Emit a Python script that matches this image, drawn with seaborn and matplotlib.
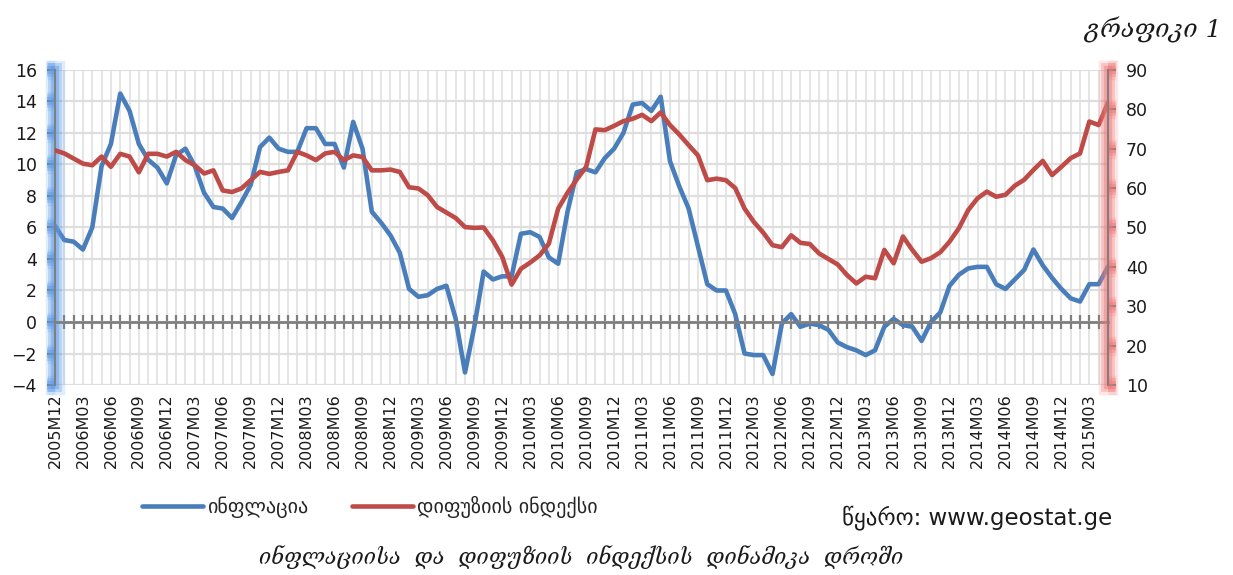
import numpy as np
import pandas as pd
import matplotlib
matplotlib.use("Agg")
import matplotlib.pyplot as plt
import matplotlib.patheffects as pe
import seaborn as sns

# ---------------- data (monthly, 2005M12 .. 2015M05) ----------------
inflation = [6.1, 5.2, 5.1, 4.6, 6.0, 9.9, 11.3, 14.5, 13.4, 11.3,
             10.3, 9.8, 8.8, 10.6, 11.0, 9.9, 8.2, 7.3, 7.2, 6.6,
             7.6, 8.7, 11.1, 11.7, 11.0, 10.8, 10.8, 12.3, 12.3, 11.3,
             11.3, 9.8, 12.7, 11.0, 7.0, 6.3, 5.5, 4.4, 2.1, 1.6,
             1.7, 2.1, 2.3, 0.2, -3.2, -0.3, 3.2, 2.7, 2.9, 2.9,
             5.6, 5.7, 5.4, 4.1, 3.7, 7.0, 9.5, 9.7, 9.5, 10.4,
             11.0, 12.0, 13.8, 13.9, 13.4, 14.3, 10.2, 8.6, 7.2, 4.8,
             2.4, 2.0, 2.0, 0.5, -2.0, -2.1, -2.1, -3.3, -0.1, 0.5,
             -0.3, -0.1, -0.2, -0.5, -1.3, -1.6, -1.8, -2.1, -1.8, -0.3,
             0.2, -0.2, -0.3, -1.2, 0.0, 0.6, 2.3, 3.0, 3.4, 3.5,
             3.5, 2.4, 2.1, 2.7, 3.3, 4.6, 3.6, 2.8, 2.1, 1.5,
             1.3, 2.4, 2.4, 3.5]

diffusion = [69.6, 68.8, 67.5, 66.2, 65.8, 68.0, 65.4, 68.7, 68.0, 64.0,
             68.7, 68.7, 68.0, 69.2, 67.1, 65.8, 63.7, 64.5, 59.4, 59.0,
             59.9, 62.0, 64.1, 63.6, 64.1, 64.5, 69.2, 68.3, 67.1, 68.8,
             69.2, 67.1, 68.3, 67.9, 64.5, 64.5, 64.7, 64.1, 60.2, 59.9,
             58.2, 55.2, 53.8, 52.4, 50.1, 49.9, 50.0, 46.7, 42.5, 35.5,
             39.5, 41.1, 42.9, 45.9, 54.8, 58.8, 62.2, 65.4, 74.9, 74.7,
             75.8, 77.0, 77.6, 78.6, 77.0, 79.2, 76.0, 73.6, 70.9, 68.3,
             62.0, 62.4, 62.0, 60.0, 54.8, 51.4, 48.7, 45.5, 45.0, 48.0,
             46.1, 45.8, 43.4, 42.0, 40.6, 37.9, 35.8, 37.5, 37.1, 44.3,
             40.9, 47.7, 44.3, 41.3, 42.2, 43.7, 46.4, 49.8, 54.4, 57.4,
             59.1, 57.8, 58.3, 60.6, 62.1, 64.6, 66.9, 63.3, 65.4, 67.6,
             68.8, 76.9, 76.0, 81.7]

tick_labels = ["2005M12",
               "2006M03", "2006M06", "2006M09", "2006M12",
               "2007M03", "2007M06", "2007M09", "2007M12",
               "2008M03", "2008M06", "2008M09", "2008M12",
               "2009M03", "2009M06", "2009M09", "2009M12",
               "2010M03", "2010M06", "2010M09", "2010M12",
               "2011M03", "2011M06", "2011M09", "2011M12",
               "2012M03", "2012M06", "2012M09", "2012M12",
               "2013M03", "2013M06", "2013M09", "2013M12",
               "2014M03", "2014M06", "2014M09", "2014M12",
               "2015M03"]

series_names = ["ინფლაცია", "დიფუზიის ინდექსი"]
left_ticks = [-4, -2, 0, 2, 4, 6, 8, 10, 12, 14, 16]
right_ticks = [10, 20, 30, 40, 50, 60, 70, 80, 90]

title_text = "გრაფიკი 1"
source_text = "წყარო: www.geostat.ge"
caption_text = "ინფლაციისა  და  დიფუზიის  ინდექსის  დინამიკა  დროში"

# ---------------- style ----------------
sns.set_style("white")
plt.rcParams["font.family"] = ["DejaVu Sans"]

BLUE = "#4A7EBB"
RED = "#BE4B48"
GRID = "#DEDEDE"
AXIS = "#7F7F7F"
TXT = "#1a1a1a"


def glow(color):
    return [pe.Stroke(linewidth=14, foreground=color, alpha=0.18),
            pe.Stroke(linewidth=10, foreground=color, alpha=0.30),
            pe.Stroke(linewidth=6, foreground=color, alpha=0.45),
            pe.Normal()]


df = pd.DataFrame({"t": np.arange(len(inflation)),
                   "inflation": inflation,
                   "diffusion": diffusion})

fig = plt.figure(figsize=(12.33, 5.75), dpi=100)
ax = fig.add_axes([0.0446, 0.3304, 0.854, 0.548])

sns.lineplot(data=df, x="t", y="inflation", ax=ax, color=BLUE, lw=3.3,
             legend=False)
line_blue = ax.get_lines()[0]
line_blue.set_solid_joinstyle("round")

ax2 = ax.twinx()
sns.lineplot(data=df, x="t", y="diffusion", ax=ax2, color=RED, lw=3.3,
             legend=False)
line_red = ax2.get_lines()[0]
line_red.set_solid_joinstyle("round")

n = len(inflation)
ax.set_xlim(0, n - 1)
ax.set_ylim(-4, 16)
ax2.set_ylim(10, 90)
for a in (ax, ax2):
    a.set_xlabel("")
    a.set_ylabel("")

# x ticks: months (minor) and quarters (major)
ax.set_xticks(np.arange(0, n, 3))
ax.set_xticks(np.arange(n), minor=True)
ax.grid(axis="x", which="both", color=GRID, lw=1.1)
ax.set_yticks(left_ticks)
ax.grid(axis="y", which="major", color=GRID, lw=1.6)
ax.set_axisbelow(True)

# horizontal axis crossing at zero, with monthly tick marks
ax.spines["bottom"].set_position(("data", 0))
ax.spines["bottom"].set_color(AXIS)
ax.spines["bottom"].set_linewidth(2)
ax.tick_params(axis="x", which="both", bottom=True, direction="inout",
               length=10, width=1.6, color=AXIS, labelbottom=False)
ax.spines["top"].set_visible(False)
ax.spines["right"].set_visible(False)

# left axis with blue glow
ax.spines["left"].set_color(AXIS)
ax.spines["left"].set_linewidth(1.5)
ax.spines["left"].set_path_effects(glow("#5B9BE8"))
ax.tick_params(axis="y", which="major", left=True, direction="out",
               length=6, width=1.5, color=AXIS, labelsize=12.5,
               labelcolor=TXT, pad=7)
for tk in ax.yaxis.get_major_ticks():
    tk.tick1line.set_path_effects(glow("#5B9BE8"))

# right axis with red glow
for s in ["left", "top", "bottom"]:
    ax2.spines[s].set_visible(False)
ax2.spines["right"].set_color(AXIS)
ax2.spines["right"].set_linewidth(1.5)
ax2.spines["right"].set_path_effects(glow("#F07878"))
ax2.set_yticks(right_ticks)
ax2.grid(False)
ax2.tick_params(axis="y", which="major", right=True, direction="out",
                length=6, width=1.5, color=AXIS, labelsize=12.5,
                labelcolor=TXT, pad=7)
for tk in ax2.yaxis.get_major_ticks():
    tk.tick2line.set_path_effects(glow("#F07878"))

# category labels at the bottom of the plot area
sec = ax.secondary_xaxis(0.0)
sec.set_xticks(np.arange(0, n, 3))
sec.set_xticklabels(tick_labels, rotation=90, fontsize=11.5, color=TXT)
sec.tick_params(length=0, pad=6)
sec.spines["bottom"].set_visible(False)

# legend
fig.legend(handles=[line_blue, line_red], labels=series_names,
           loc="center", bbox_to_anchor=(0.300, 0.118), ncol=2,
           frameon=False, fontsize=14.5, handlelength=3.0,
           columnspacing=2.2, handletextpad=0.2)

# texts
fig.text(0.991, 0.948, title_text, ha="right", va="center", fontsize=18,
         style="italic", family=["DejaVu Serif", "DejaVu Sans"], color=TXT)
fig.text(0.902, 0.100, source_text, ha="right", va="center", fontsize=16.5,
         color=TXT)
fig.text(0.471, 0.031, caption_text, ha="center", va="center", fontsize=15.5,
         style="italic", family=["DejaVu Serif", "DejaVu Sans"], color=TXT)

fig.savefig("out.png", dpi=100)
